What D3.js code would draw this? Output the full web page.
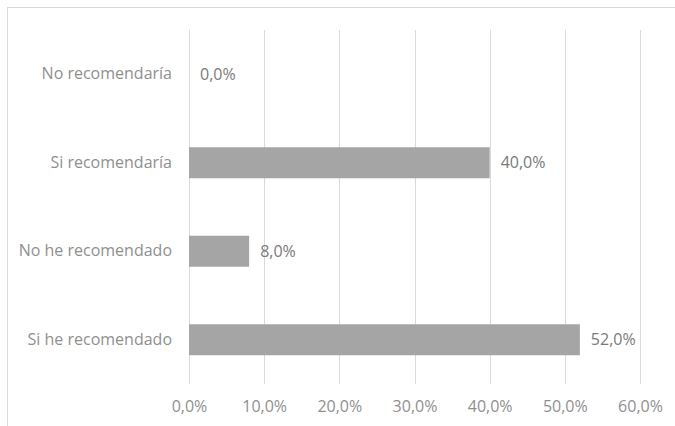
<!DOCTYPE html>
<html>
<head>
<meta charset="utf-8">
<script src="https://cdn.jsdelivr.net/npm/d3@7"></script>
<style>
  body { margin: 0; background: #fff; }
  text { font-family: "Open Sans", sans-serif; }
</style>
</head>
<body>
<div id="chart"></div>
<script>
// chart data
var categories = ["No recomendaría", "Si recomendaría", "No he recomendado", "Si he recomendado"];
var values = [0, 40, 8, 52];
var tickValues = [0, 10, 20, 30, 40, 50, 60];

var svgWidth = 675;
var svgHeight = 426;

// plot area
var margin = { top: 30, right: 35, bottom: 42, left: 189 };
var chartWidth = svgWidth - margin.left - margin.right;
var chartHeight = svgHeight - margin.top - margin.bottom;

var svg = d3.select("#chart")
  .append("svg")
  .attr("width", svgWidth)
  .attr("height", svgHeight);

// chart border (only top and left show in the frame)
svg.append("rect")
  .attr("x", 7.5)
  .attr("y", 7.5)
  .attr("width", 700)
  .attr("height", 500)
  .attr("fill", "none")
  .attr("stroke", "#d9d9d9")
  .attr("stroke-width", 1);

var chartGroup = svg.append("g")
  .attr("transform", `translate(${margin.left}, ${margin.top})`);

var xScale = d3.scaleLinear()
  .domain([0, 60])
  .range([0, chartWidth]);

var yScale = d3.scaleBand()
  .domain(categories)
  .range([0, chartHeight])
  .paddingInner(0.65)
  .paddingOuter(0.325);

// gridlines
chartGroup.selectAll(".grid")
  .data(tickValues)
  .enter()
  .append("line")
  .attr("x1", d => Math.round(xScale(d)) + 0.5)
  .attr("x2", d => Math.round(xScale(d)) + 0.5)
  .attr("y1", 0)
  .attr("y2", chartHeight)
  .attr("stroke", "#d9d9d9")
  .attr("stroke-width", 1);

var fmt = d => d.toFixed(1).replace(".", ",") + "%";

// bottom axis labels
var bottomAxis = d3.axisBottom(xScale)
  .tickValues(tickValues)
  .tickFormat(fmt)
  .tickSize(0)
  .tickPadding(17);

chartGroup.append("g")
  .attr("transform", `translate(0, ${chartHeight})`)
  .call(bottomAxis)
  .call(g => g.select(".domain").remove())
  .selectAll("text")
  .attr("font-size", "16px")
  .attr("fill", "#8f8f8f")
  .style("font-family", "'Open Sans', sans-serif");

// left axis labels
var leftAxis = d3.axisLeft(yScale)
  .tickSize(0)
  .tickPadding(17);

chartGroup.append("g")
  .call(leftAxis)
  .call(g => g.select(".domain").remove())
  .selectAll("text")
  .attr("font-size", "16px")
  .attr("fill", "#8f8f8f")
  .style("font-family", "'Open Sans', sans-serif");

// bars
var data = categories.map((c, i) => ({ cat: c, value: values[i] }));

chartGroup.selectAll(".bar")
  .data(data)
  .enter()
  .append("rect")
  .attr("x", 0)
  .attr("y", d => yScale(d.cat))
  .attr("width", d => xScale(d.value))
  .attr("height", yScale.bandwidth())
  .attr("fill", "#a5a5a5");

// value labels
chartGroup.selectAll(".label")
  .data(data)
  .enter()
  .append("text")
  .attr("x", d => xScale(d.value) + 11)
  .attr("y", d => yScale(d.cat) + yScale.bandwidth() / 2)
  .attr("dy", "0.35em")
  .attr("font-size", "16px")
  .attr("fill", "#7a7a7a")
  .text(d => fmt(d.value));
</script>
</body>
</html>
